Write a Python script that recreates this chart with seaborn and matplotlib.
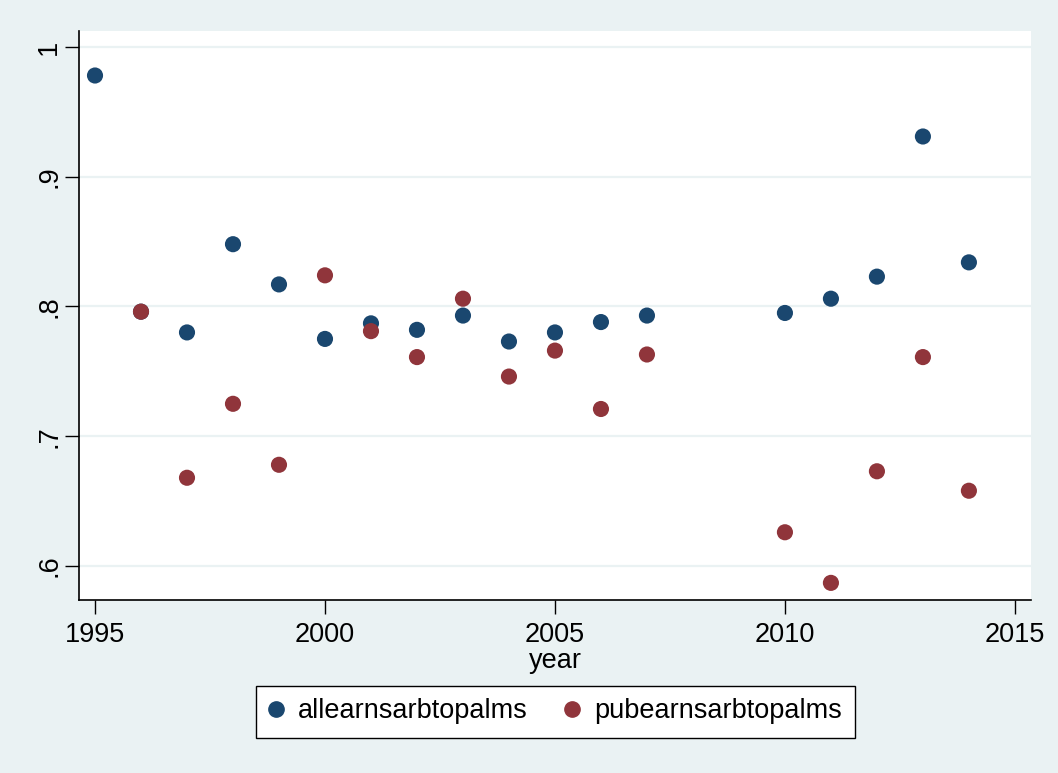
import matplotlib
matplotlib.use("Agg")
import matplotlib.pyplot as plt
import seaborn as sns
import pandas as pd
import numpy as np

years_all = [1995, 1996, 1997, 1998, 1999, 2000, 2001, 2002, 2003, 2004, 2005,
             2006, 2007, 2010, 2011, 2012, 2013, 2014]
allearns = [0.978, 0.796, 0.780, 0.848, 0.817, 0.775, 0.787, 0.782, 0.793, 0.773,
            0.780, 0.788, 0.793, 0.795, 0.806, 0.823, 0.931, 0.834]

years_pub = [1996, 1997, 1998, 1999, 2000, 2001, 2002, 2003, 2004, 2005,
             2006, 2007, 2010, 2011, 2012, 2013, 2014]
pubearns = [0.796, 0.668, 0.725, 0.678, 0.824, 0.781, 0.761, 0.806, 0.746, 0.766,
            0.721, 0.763, 0.626, 0.587, 0.673, 0.761, 0.658]

series_names = ["allearnsarbtopalms", "pubearnsarbtopalms"]
y_ticks = [0.6, 0.7, 0.8, 0.9, 1.0]
y_tick_labels = [".6", ".7", ".8", ".9", "1"]
x_ticks = [1995, 2000, 2005, 2010, 2015]

df = pd.concat([
    pd.DataFrame({"year": years_all, "value": allearns, "series": series_names[0]}),
    pd.DataFrame({"year": years_pub, "value": pubearns, "series": series_names[1]}),
])

sns.set_style("white")
plt.rcParams["font.family"] = ["Liberation Sans", "DejaVu Sans"]
plt.rcParams["text.color"] = "black"
plt.rcParams["axes.labelcolor"] = "black"
plt.rcParams["xtick.color"] = "black"
plt.rcParams["ytick.color"] = "black"

bg = "#EAF2F3"
colors = ["#1A476F", "#90353B"]
fig = plt.figure(figsize=(10.58, 7.73), dpi=100, facecolor=bg)
ax = fig.add_axes([79 / 1058, 1 - 600 / 773, (1031 - 79) / 1058, (600 - 31) / 773])
ax.set_facecolor("white")

for yv in y_ticks:
    ax.axhline(yv, color=bg, lw=1.6, zorder=0)

sns.scatterplot(data=df, x="year", y="value", hue="series",
                palette=colors, s=135, linewidth=0,
                ax=ax, legend=False, zorder=3)

ax.set_xlim(1994.652, 2015.35)
ax.set_ylim(0.5738, 1.0123)
ax.set_xticks(x_ticks)
ax.set_yticks(y_ticks)
ax.set_yticklabels(y_tick_labels, rotation=90, va="center")
ax.tick_params(axis="both", direction="out", length=10, width=1,
               labelsize=19.5, pad=6, left=True, bottom=True,
               colors="black", labelcolor="black")
ax.tick_params(axis="y", pad=2)
ax.set_xlabel("year", fontsize=19.5, labelpad=0, color="black")
ax.set_ylabel("")

for side in ["top", "right"]:
    ax.spines[side].set_visible(False)
for side in ["left", "bottom"]:
    ax.spines[side].set_color("black")
    ax.spines[side].set_linewidth(1.2)

handles = [
    plt.Line2D([], [], marker="o", ls="", color=colors[0], markersize=11),
    plt.Line2D([], [], marker="o", ls="", color=colors[1], markersize=11),
]
leg = fig.legend(handles, series_names, loc="center",
                 bbox_to_anchor=(555.5 / 1058, 1 - 711.5 / 773), ncol=2,
                 fontsize=19.5, frameon=True, fancybox=False, edgecolor="black",
                 framealpha=1, facecolor="white",
                 handletextpad=0.55, columnspacing=1.4, borderpad=0.48,
                 handlelength=0.5)
leg.get_frame().set_linewidth(1.0)
for t in leg.get_texts():
    t.set_color("black")

fig.savefig("out.png", dpi=100, facecolor=bg)
